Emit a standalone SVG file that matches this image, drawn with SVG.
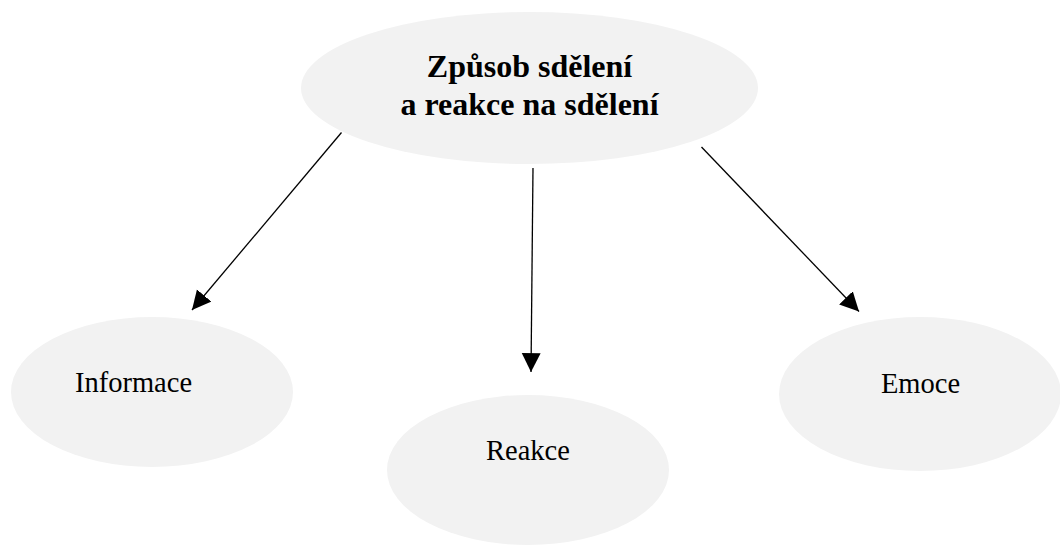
<svg xmlns="http://www.w3.org/2000/svg" width="1060" height="545" viewBox="0 0 1060 545">
  <style>
    .bubble { fill: #f2f2f2; stroke: none; }
    .title { font-family: "Liberation Serif", "Times New Roman", serif; font-weight: bold; font-size: 32px; fill: #000; text-anchor: middle; }
    .label { font-family: "Liberation Serif", "Times New Roman", serif; font-size: 28.5px; fill: #000; text-anchor: middle; }
    .link { stroke: #000; stroke-width: 1.3; fill: none; marker-end: url(#head); }
  </style>
  <defs>
    <marker id="head" markerUnits="userSpaceOnUse" markerWidth="20" markerHeight="20" viewBox="0 -9 18 18" refX="17" refY="0" orient="auto">
      <path d="M0,-8.5 L17,0 L0,8.5 z" fill="#000"/>
    </marker>
  </defs>

  <g id="node-main">
    <ellipse class="bubble" cx="529.5" cy="88" rx="228.5" ry="76"/>
    <text class="title" x="529.5" y="77">Způsob sdělení</text>
    <text class="title" x="529.5" y="115">a reakce na sdělení</text>
  </g>

  <g id="node-informace">
    <ellipse class="bubble" cx="152" cy="392" rx="141" ry="75"/>
    <text class="label" x="133.5" y="392">Informace</text>
  </g>

  <g id="node-reakce">
    <ellipse class="bubble" cx="528" cy="470" rx="141" ry="75"/>
    <text class="label" x="528" y="460">Reakce</text>
  </g>

  <g id="node-emoce">
    <ellipse class="bubble" cx="920" cy="394" rx="141" ry="77"/>
    <text class="label" x="920.5" y="393">Emoce</text>
  </g>

  <g id="connectors">
    <line class="link" x1="341.5" y1="132.5" x2="192" y2="310"/>
    <line class="link" x1="533" y1="168" x2="531" y2="372"/>
    <line class="link" x1="701.5" y1="147" x2="859" y2="311.5"/>
  </g>
</svg>
